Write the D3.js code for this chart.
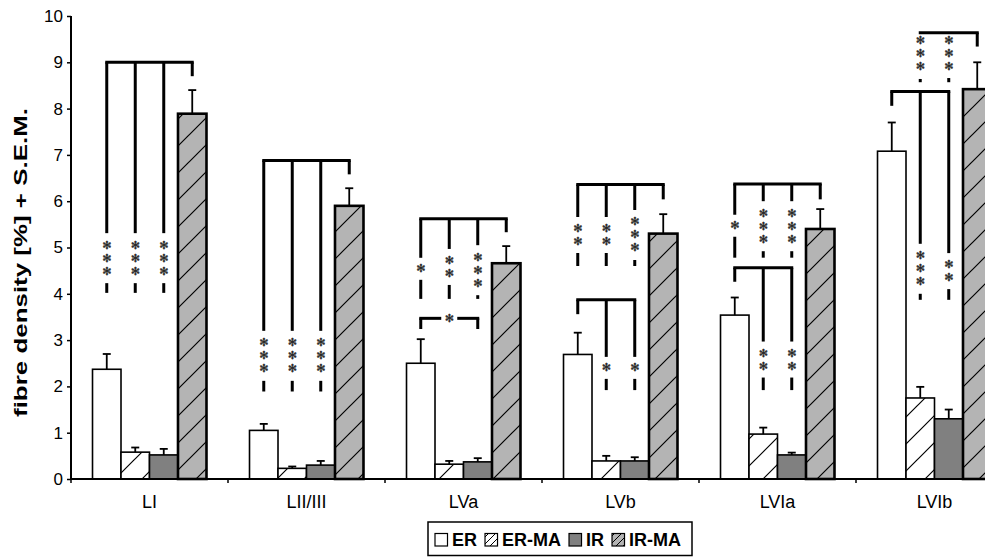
<!DOCTYPE html>
<html>
<head>
<meta charset="utf-8">
<script src="https://cdn.jsdelivr.net/npm/d3@7"></script>
<style>
body { margin: 0; background: #fff; }
svg { display: block; font-family: "Liberation Sans", Arial, sans-serif; }
</style>
</head>
<body>
<script>
// categories and series
var categories = ["LI", "LII/III", "LVa", "LVb", "LVIa", "LVIb"];
var series = ["ER", "ER-MA", "IR", "IR-MA"];

// means per series (one value per category)
var erMean   = [2.37, 1.05, 2.50, 2.69, 3.54, 7.08];
var ermaMean = [0.58, 0.23, 0.32, 0.39, 0.97, 1.75];
var irMean   = [0.52, 0.30, 0.37, 0.39, 0.52, 1.30];
var irmaMean = [7.89, 5.90, 4.66, 5.30, 5.40, 8.42];

// S.E.M. per series
var erSem   = [0.33, 0.14, 0.52, 0.47, 0.38, 0.62];
var ermaSem = [0.10, 0.04, 0.07, 0.11, 0.14, 0.24];
var irSem   = [0.13, 0.09, 0.08, 0.08, 0.05, 0.20];
var irmaSem = [0.51, 0.38, 0.37, 0.42, 0.43, 0.58];

var yTicks = [0, 1, 2, 3, 4, 5, 6, 7, 8, 9, 10];

// significance brackets: level, first/last bar, drops (bar, end value, star count, star centre value)
var brackets = [
  {cat: "LI", level: 9.0, from: 0, to: 3, drops: [[0, 4.02, 3, 4.77], [1, 4.02, 3, 4.77], [2, 4.02, 3, 4.77], [3, 8.7, 0, 0]]},
  {cat: "LII/III", level: 6.88, from: 0, to: 3, drops: [[0, 1.89, 3, 2.66], [1, 1.89, 3, 2.66], [2, 1.89, 3, 2.66], [3, 6.58, 0, 0]]},
  {cat: "LVa", level: 5.62, from: 0, to: 3, drops: [[0, 3.89, 1, 4.54], [1, 3.89, 2, 4.58], [2, 3.89, 3, 4.51], [3, 5.33, 0, 0]]},
  {cat: "LVa", level: 3.47, from: 0, to: 2, mid: 1, drops: [[0, 3.24, 0, 0], [2, 3.24, 0, 0]]},
  {cat: "LVb", level: 6.36, from: 0, to: 3, drops: [[0, 4.6, 2, 5.27], [1, 4.6, 2, 5.27], [2, 4.6, 3, 5.27], [3, 6.04, 0, 0]]},
  {cat: "LVb", level: 3.87, from: 0, to: 2, drops: [[0, 3.56, 0, 0], [1, 1.92, 1, 2.4], [2, 1.92, 1, 2.4]]},
  {cat: "LVIa", level: 6.37, from: 0, to: 3, drops: [[0, 4.78, 1, 5.47], [1, 4.78, 3, 5.46], [2, 4.78, 3, 5.46], [3, 6.04, 0, 0]]},
  {cat: "LVIa", level: 4.56, from: 0, to: 2, drops: [[0, 4.26, 0, 0], [1, 1.92, 2, 2.58], [2, 1.92, 2, 2.58]]},
  {cat: "LVIb", level: 9.64, from: 1, to: 3, drops: [[1, 8.57, 3, 9.18], [2, 8.57, 3, 9.2], [3, 9.34, 0, 0]]},
  {cat: "LVIb", level: 8.37, from: 0, to: 2, drops: [[0, 8.06, 0, 0], [1, 3.87, 3, 4.54], [2, 3.87, 2, 4.49]]}
];

var means = [erMean, ermaMean, irMean, irmaMean];
var sems = [erSem, ermaSem, irSem, irmaSem];

var W = 985, H = 557;
var svg = d3.select("body").append("svg").attr("width", W).attr("height", H);

var x = d3.scaleBand().domain(categories).range([71, 1013]).paddingInner(0.274).paddingOuter(0.137);
var xs = d3.scaleBand().domain(series).range([0, x.bandwidth()]);
var y = d3.scaleLinear().domain([0, 10]).range([479, 16]);

var defs = svg.append("defs");
function hatch(id, bg, size, sw) {
  var p = defs.append("pattern").attr("id", id).attr("patternUnits", "userSpaceOnUse")
    .attr("width", size).attr("height", size);
  p.append("rect").attr("width", size).attr("height", size).attr("fill", bg);
  p.append("path")
    .attr("d", "M-2,2L2,-2M0," + size + "L" + size + ",0M" + (size - 2) + "," + (size + 2) + "L" + (size + 2) + "," + (size - 2))
    .attr("stroke", "#000").attr("stroke-width", sw);
}
hatch("hw", "#fff", 27, 1.2);
hatch("hg", "#b4b4b4", 27, 1.2);
hatch("hwl", "#fff", 7, 1);
hatch("hgl", "#b4b4b4", 7, 1);

var fills = ["#fff", "url(#hw)", "#808080", "url(#hg)"];
var legendFills = ["#fff", "url(#hwl)", "#808080", "url(#hgl)"];

// table of bars
var rows = [];
categories.forEach(function (c, i) {
  series.forEach(function (s, j) {
    rows.push({cat: c, s: s, j: j, v: means[j][i], e: sems[j][i]});
  });
});

var barG = svg.append("g");
barG.selectAll("rect").data(rows).enter().append("rect")
  .attr("x", function (d) { return x(d.cat) + xs(d.s); })
  .attr("y", function (d) { return y(d.v); })
  .attr("width", xs.bandwidth())
  .attr("height", function (d) { return y(0) - y(d.v); })
  .attr("fill", function (d) { return fills[d.j]; })
  .attr("stroke", "#000")
  .attr("stroke-width", function (d) { return d.j == 3 ? 2.6 : 1.6; });

// error bars
var cx = function (d) { return x(d.cat) + xs(d.s) + xs.bandwidth() / 2; };
var errG = svg.append("g").attr("stroke", "#000").attr("stroke-width", 1.8);
errG.selectAll("line.v").data(rows).enter().append("line").attr("class", "v")
  .attr("x1", cx).attr("x2", cx)
  .attr("y1", function (d) { return y(d.v); })
  .attr("y2", function (d) { return y(d.v + d.e); });
errG.selectAll("line.c").data(rows).enter().append("line").attr("class", "c")
  .attr("x1", function (d) { return cx(d) - 4; }).attr("x2", function (d) { return cx(d) + 4; })
  .attr("y1", function (d) { return y(d.v + d.e); })
  .attr("y2", function (d) { return y(d.v + d.e); });

// significance brackets
var sigG = svg.append("g");
var starStep = 13;
function stars(xc, yc, n) {
  for (var k = 0; k < n; k++) {
    var yy = yc + (k - (n - 1) / 2) * starStep;
    sigG.append("text").attr("x", xc).attr("y", yy)
      .attr("text-anchor", "middle").attr("dominant-baseline", "central")
      .style("font-family", "DejaVu Sans").style("font-size", "11px")
      .attr("fill", "#333").attr("stroke", "#111").attr("stroke-width", 0.35)
      .text("\u273B");
  }
}
function seg(x1, y1, x2, y2) {
  sigG.append("line").attr("x1", x1).attr("y1", y1).attr("x2", x2).attr("y2", y2)
    .attr("stroke", "#000").attr("stroke-width", 3).attr("stroke-linecap", "butt");
}
brackets.forEach(function (b) {
  var bx = function (j) { return x(b.cat) + xs(series[j]) + xs.bandwidth() / 2; };
  var yl = y(b.level);
  var x0 = bx(b.from) - 1.5, x1 = bx(b.to) + 1.5;
  if (b.mid != null) {
    var xm = bx(b.mid);
    seg(x0, yl, xm - 8, yl);
    seg(xm + 8, yl, x1, yl);
    stars(xm, yl, 1);
  } else {
    seg(x0, yl, x1, yl);
  }
  b.drops.forEach(function (d) {
    var xx = bx(d[0]), ye = y(d[1]);
    if (d[2] > 0) {
      var yc = y(d[3]), gap = d[2] * 7 + 4;
      if (yc - gap > yl) seg(xx, yl, xx, yc - gap);
      seg(xx, yc + gap, xx, ye);
      stars(xx, yc, d[2]);
    } else {
      seg(xx, yl, xx, ye);
    }
  });
});

// y axis
var yAxis = d3.axisLeft(y).tickValues(yTicks).tickSize(4).tickPadding(4).tickFormat(d3.format("d"));
var ya = svg.append("g").attr("transform", "translate(71,0)").call(yAxis);
ya.select(".domain").attr("stroke-width", 2).attr("d", "M0,16V479");
ya.selectAll(".tick line").attr("stroke-width", 1.5);
ya.selectAll(".tick text").style("font-size", "17px").style("font-family", "Liberation Sans").attr("fill", "#000");

// x axis
svg.append("line").attr("x1", 70).attr("x2", W).attr("y1", 479).attr("y2", 479)
  .attr("stroke", "#000").attr("stroke-width", 2);
var bounds = categories.map(function (c) { return x(c) - x.step() * x.paddingOuter(); });
svg.selectAll("line.xt").data(bounds).enter().append("line").attr("class", "xt")
  .attr("x1", function (d) { return d; }).attr("x2", function (d) { return d; })
  .attr("y1", 479).attr("y2", 483).attr("stroke", "#000").attr("stroke-width", 1.5);
svg.selectAll("text.cat").data(categories).enter().append("text").attr("class", "cat")
  .attr("x", function (d) { return x(d) + x.bandwidth() / 2; })
  .attr("y", 508).attr("text-anchor", "middle").style("font-size", "18px")
  .text(function (d) { return d; });

// y title
svg.append("text").attr("transform", "translate(26.5,262.5) rotate(-90)")
  .attr("text-anchor", "middle").style("font-size", "19px").style("font-weight", "bold")
  .attr("textLength", 309).attr("lengthAdjust", "spacingAndGlyphs")
  .text("fibre density [%] + S.E.M.");

// legend
var lg = svg.append("g");
lg.append("rect").attr("x", 428).attr("y", 522).attr("width", 264).attr("height", 33.5)
  .attr("fill", "#fff").attr("stroke", "#000").attr("stroke-width", 1.5);
var lx = 435;
series.forEach(function (s, j) {
  lg.append("rect").attr("x", lx).attr("y", 533.5).attr("width", 12.5).attr("height", 12.5)
    .attr("fill", legendFills[j]).attr("stroke", "#000").attr("stroke-width", 1.2);
  var t = lg.append("text").attr("x", lx + 17).attr("y", 546)
    .style("font-size", "18px").style("font-weight", "bold").text(s);
  lx += 17 + t.node().getComputedTextLength() + 8;
});
</script>
</body>
</html>
